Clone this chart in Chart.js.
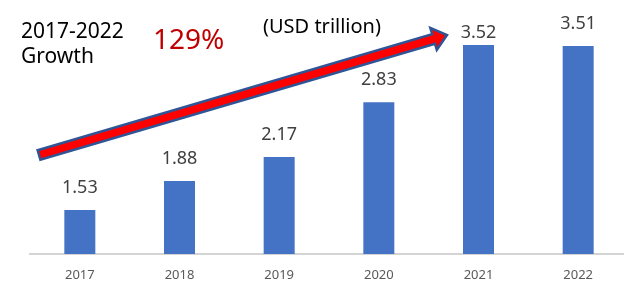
<!DOCTYPE html>
<html>
<head>
<meta charset="utf-8">
<script src="https://cdn.jsdelivr.net/npm/chart.js@4"></script>
<style>
  html, body { margin: 0; padding: 0; overflow: hidden; background: #fff; }
  #wrap { width: 628px; height: 282px; }
</style>
</head>
<body>
<div id="wrap"><canvas id="growth_chart"></canvas></div>
<script>
// chart data
var years = ["2017", "2018", "2019", "2020", "2021", "2022"];
var spend = [1.53, 1.88, 2.17, 2.83, 3.52, 3.51]; // USD trillion
var labelLift = [17, 17, 17, 17, 7, 17]; // 3.52 label sits lower, under the arrow

var FONT = "'Noto Sans', 'Open Sans', sans-serif";

// value labels above each bar
var valueLabels = {
    id: 'valueLabels',
    afterDatasetsDraw: function(chart) {
        var ctx = chart.ctx;
        var meta = chart.getDatasetMeta(0);
        ctx.save();
        ctx.font = "18px " + FONT;
        ctx.fillStyle = '#404040';
        ctx.textAlign = 'center';
        ctx.textBaseline = 'alphabetic';
        meta.data.forEach(function(bar, i) {
            ctx.fillText(spend[i].toFixed(2), bar.x, bar.y - labelLift[i]);
        });
        ctx.restore();
    }
};

// headline texts + growth arrow
var overlay = {
    id: 'overlay',
    afterDraw: function(chart) {
        var ctx = chart.ctx;
        ctx.save();
        ctx.textAlign = 'left';
        ctx.textBaseline = 'alphabetic';
        ctx.fillStyle = '#000';
        ctx.font = "21px " + FONT;
        ctx.fillText("2017-2022", 21, 37.7);
        ctx.fillText("Growth", 21, 62.7);
        ctx.font = "20px " + FONT;
        ctx.fillText("(USD trillion)", 263, 33);
        ctx.fillStyle = '#c00000';
        ctx.font = "28px " + FONT;
        ctx.fillText("129%", 153, 49.3);

        // arrow
        var sx = 39, sy = 155, tx = 447, ty = 35;
        var dx = tx - sx, dy = ty - sy;
        var len = Math.sqrt(dx * dx + dy * dy);
        var ux = dx / len, uy = dy / len;
        var nx = -uy, ny = ux;
        var w = 5, h = 11.5, L = 14;
        var bx = tx - ux * L, by = ty - uy * L;
        ctx.beginPath();
        ctx.moveTo(sx - nx * w, sy - ny * w);
        ctx.lineTo(bx - nx * w, by - ny * w);
        ctx.lineTo(bx - nx * h, by - ny * h);
        ctx.lineTo(tx, ty);
        ctx.lineTo(bx + nx * h, by + ny * h);
        ctx.lineTo(bx + nx * w, by + ny * w);
        ctx.lineTo(sx + nx * w, sy + ny * w);
        ctx.closePath();
        ctx.fillStyle = '#ff0000';
        ctx.fill();
        ctx.lineWidth = 2.5;
        ctx.lineJoin = 'miter';
        ctx.strokeStyle = '#2f5597';
        ctx.stroke();
        ctx.restore();
    }
};

var ctx = document.getElementById('growth_chart').getContext('2d');
var growthChart = new Chart(ctx, {
    type: 'bar',
    data: {
        labels: years,
        datasets: [{
            label: "Spending",
            data: spend,
            backgroundColor: '#4472c4',
            borderWidth: 0,
            barPercentage: 0.311,
            categoryPercentage: 1
        }]
    },
    options: {
        responsive: true,
        maintainAspectRatio: false,
        animation: false,
        layout: { padding: { left: 30, right: 0, top: 5.3, bottom: 0 } },
        plugins: {
            legend: { display: false },
            tooltip: { enabled: false }
        },
        scales: {
            x: {
                grid: { display: false, drawTicks: false },
                border: { display: true, color: '#d4d4d4', width: 2 },
                ticks: {
                    color: '#595959',
                    font: { family: FONT, size: 13 },
                    padding: 13
                },
                afterFit: function(scale) { scale.height = 28; }
            },
            y: {
                display: false,
                min: 1,
                max: 4
            }
        }
    },
    plugins: [valueLabels, overlay]
});
</script>
</body>
</html>
